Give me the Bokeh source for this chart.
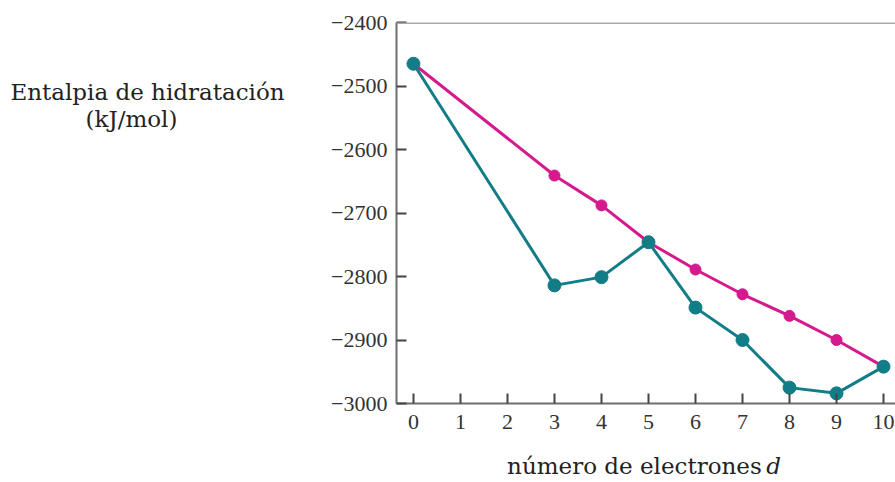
from bokeh.plotting import figure
from bokeh.models import Span, FixedTicker, Range1d
from bokeh.layouts import row, column
from bokeh.core.properties import value
from bokeh.embed import file_html
from bokeh.resources import INLINE

# Data
electrones = [0, 3, 4, 5, 6, 7, 8, 9, 10]
entalpia_medida = [-2465, -2814, -2801, -2746, -2849, -2900, -2975, -2984, -2942]
entalpia_lineal = [-2465, -2641, -2688, -2746, -2789, -2828, -2862, -2900, -2942]
x_ticks = [0, 1, 2, 3, 4, 5, 6, 7, 8, 9, 10]
y_ticks = [-3000, -2900, -2800, -2700, -2600, -2500, -2400]
y_title = ["Entalpia de hidratación", "(kJ/mol)"]
x_title = ["número de electrones", "d"]

TEAL = "#137d87"
MAGENTA = "#d41a8c"
LAB_FONT = "DejaVu Serif"


def blank(w, h):
    opts = dict(width=w, height=h, output_backend="svg", toolbar_location=None,
                x_range=Range1d(0, w), y_range=Range1d(0, h),
                min_border=0, x_axis_type=None, y_axis_type=None)
    try:
        f = figure(title=None, **opts)
    except Exception:
        f = figure(**opts)
        f.title.visible = False
    f.outline_line_color = None
    f.xgrid.grid_line_color = None
    f.ygrid.grid_line_color = None
    return f


# left panel (328 x 482): y title
left = blank(328, 482)
left.text(x=[147, 131], y=[391, 364], text=y_title, text_align="center",
          text_baseline="middle", text_font=value(LAB_FONT), text_font_size="23px",
          text_color="#222222")

# main chart (567 x 440)
p = figure(width=567, height=440, output_backend="svg", toolbar_location=None,
           x_range=Range1d(-0.361, 10.255), y_range=Range1d(-3000, -2400),
           min_border_left=67, min_border_right=0, min_border_top=22, min_border_bottom=37)
p.outline_line_color = None
p.xgrid.grid_line_color = None
p.ygrid.grid_line_color = None

for ax in (p.xaxis[0], p.yaxis[0]):
    ax.axis_line_color = "#6e6e6e"
    ax.axis_line_width = 2
    ax.major_tick_line_color = "#444444"
    ax.major_tick_line_width = 2
    ax.major_tick_in = 10
    ax.major_tick_out = 0
    ax.minor_tick_line_color = None
    ax.major_label_text_font = "Liberation Serif"
    ax.major_label_text_font_size = "22px"
    ax.major_label_text_color = "#333333"

p.xaxis.ticker = FixedTicker(ticks=x_ticks)
p.yaxis.ticker = FixedTicker(ticks=y_ticks)
p.xaxis.major_label_standoff = 11
p.yaxis.major_label_standoff = 9
p.yaxis.major_label_overrides = {t: "\u2212" + str(abs(t)) for t in y_ticks}

p.add_layout(Span(location=-2400, dimension="width", line_color="#aaaaaa", line_width=3))

p.line(electrones, entalpia_lineal, line_color=MAGENTA, line_width=3)
p.scatter(electrones, entalpia_lineal, size=11, fill_color=MAGENTA, line_color=MAGENTA)
p.line(electrones, entalpia_medida, line_color=TEAL, line_width=3)
p.scatter(electrones, entalpia_medida, size=13, fill_color=TEAL, line_color=TEAL)

# bottom panel (567 x 42): x title
bottom = blank(567, 42)
bottom.text(x=[415], y=[17], text=[x_title[0]], text_align="right",
            text_baseline="middle", text_font=value(LAB_FONT), text_font_size="23px",
            text_color="#222222")
bottom.text(x=[420], y=[17], text=[x_title[1]], text_align="left",
            text_baseline="middle", text_font=value(LAB_FONT), text_font_size="23px",
            text_font_style="italic", text_color="#222222")

layout = row(left, column(p, bottom, spacing=0), spacing=0)
open("out.html", "w").write(file_html(layout, INLINE))
